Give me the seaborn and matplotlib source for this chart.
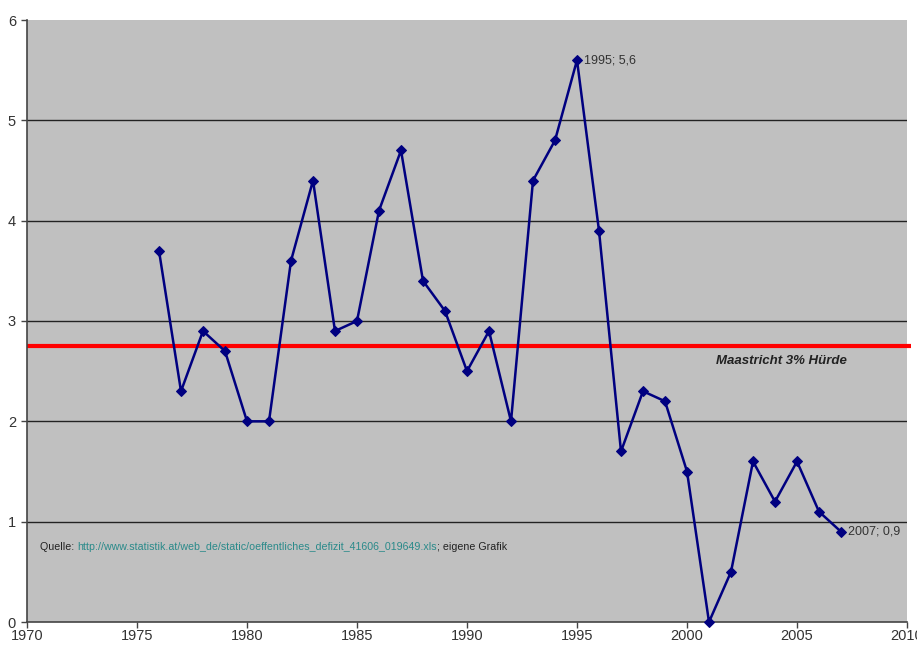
import matplotlib
matplotlib.use("Agg")
import matplotlib.pyplot as plt
from matplotlib.transforms import offset_copy
import seaborn as sns
import pandas as pd

years = [1976, 1977, 1978, 1979, 1980, 1981, 1982, 1983, 1984, 1985, 1986,
         1987, 1988, 1989, 1990, 1991, 1992, 1993, 1994, 1995, 1996, 1997,
         1998, 1999, 2000, 2001, 2002, 2003, 2004, 2005, 2006, 2007]
deficit = [3.7, 2.3, 2.9, 2.7, 2.0, 2.0, 3.6, 4.4, 2.9, 3.0, 4.1,
           4.7, 3.4, 3.1, 2.5, 2.9, 2.0, 4.4, 4.8, 5.6, 3.9, 1.7,
           2.3, 2.2, 1.5, 0.0, 0.5, 1.6, 1.2, 1.6, 1.1, 0.9]
maastricht_level = 2.75
x_ticks = [1970, 1975, 1980, 1985, 1990, 1995, 2000, 2005, 2010]
y_ticks = [0, 1, 2, 3, 4, 5, 6]
labelled_years = [1995, 2007]
source_parts = [
    ("Quelle: ", "#222222"),
    ("http://www.statistik.at/web_de/static/oeffentliches_defizit_41606_019649.xls", "#2a8a8a"),
    ("; eigene Grafik", "#222222"),
]

df = pd.DataFrame({"Jahr": years, "Defizit": deficit})

sns.set_theme(style="white")
plt.rcParams["font.family"] = ["Liberation Sans", "DejaVu Sans"]

fig = plt.figure(figsize=(9.17, 6.46), dpi=100)
ax = fig.add_axes([27 / 917, 1 - 622 / 646, 880 / 917, 602 / 646])
ax.set_facecolor("#c0c0c0")

for y in y_ticks[1:-1]:
    ax.axhline(y, color="#222222", lw=1.0, zorder=1)

ax.plot([1970, 2010.2], [maastricht_level, maastricht_level], color="#ff0000",
        lw=3, zorder=2, clip_on=False, solid_capstyle="butt")

sns.lineplot(data=df, x="Jahr", y="Defizit", ax=ax, color="#000080",
             marker="D", markersize=5, markeredgecolor="#000080", lw=1.8,
             zorder=3, clip_on=False)

for yr in labelled_years:
    v = deficit[years.index(yr)]
    ax.annotate(f"{yr}; {str(v).replace('.', ',')}", (yr, v),
                xytext=(5, 0), textcoords="offset points", va="center",
                ha="left", fontsize=9, color="#333333")

ax.text(2004.27, 2.6, "Maastricht 3% Hürde", fontsize=9.5, fontweight="bold",
        fontstyle="italic", color="#222222", ha="center", va="center")

ax.set_xlim(1970, 2010)
ax.set_ylim(0, 6)

# source line: pieces placed one after another in pixel offsets
fig.canvas.draw()
renderer = fig.canvas.get_renderer()
x_px = 0.0
for text, col in source_parts:
    tr = offset_copy(ax.transData, fig=fig, x=x_px, y=0, units="dots")
    t = ax.text(1970.6, 0.75, text, fontsize=7.7, color=col, va="center",
                ha="left", transform=tr)
    x_px += t.get_window_extent(renderer).width

ax.set_xticks(x_ticks)
ax.set_yticks(y_ticks)
ax.set_xlabel("")
ax.set_ylabel("")
ax.tick_params(axis="both", which="both", direction="out", length=4,
               width=1, color="#444444", labelsize=10.5, labelcolor="#333333",
               left=True, bottom=True)
ax.tick_params(axis="x", pad=1)
ax.tick_params(axis="y", pad=4)
for side in ["top", "right"]:
    ax.spines[side].set_visible(False)
for side in ["left", "bottom"]:
    ax.spines[side].set_color("#444444")
    ax.spines[side].set_linewidth(1.2)

fig.savefig("out.png", dpi=100, facecolor="white")
